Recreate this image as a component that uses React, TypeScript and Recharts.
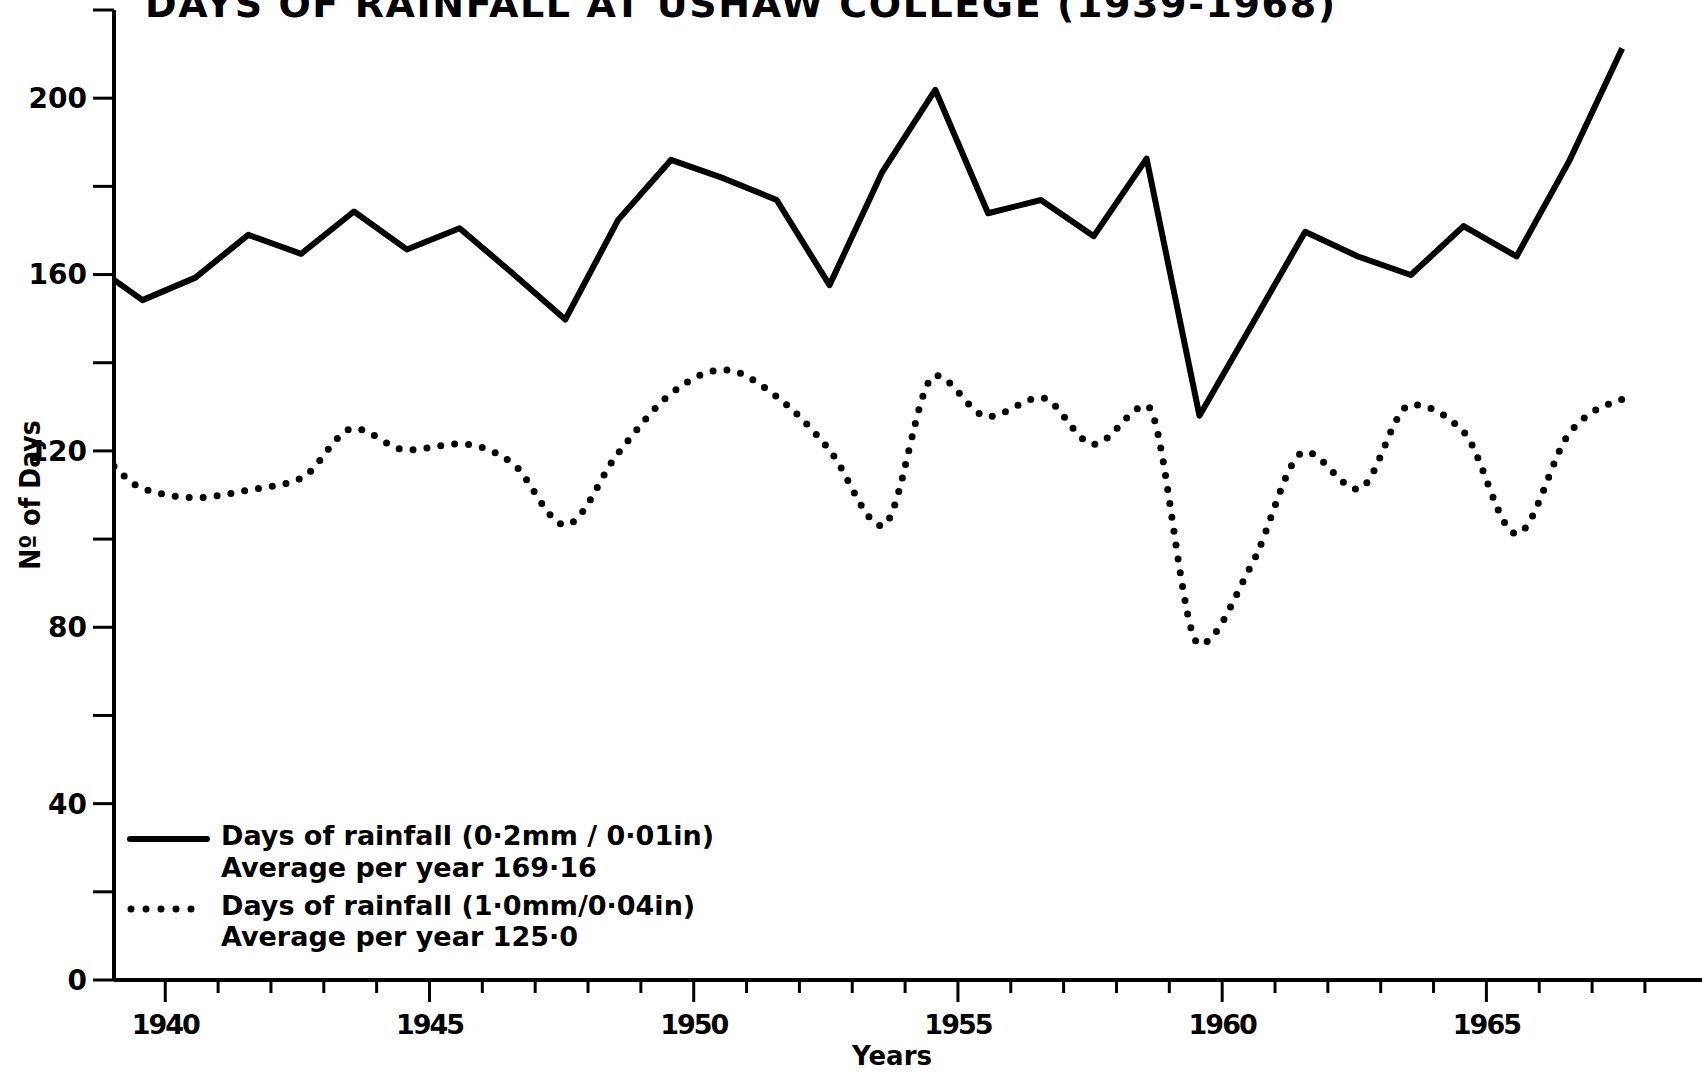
import React from 'react';
import { LineChart, Line, XAxis, YAxis } from 'recharts';

// years of record, each value plotted at mid-year
const years = [
  1939, 1940, 1941, 1942, 1943, 1944, 1945, 1946, 1947, 1948,
  1949, 1950, 1951, 1952, 1953, 1954, 1955, 1956, 1957, 1958,
  1959, 1960, 1961, 1962, 1963, 1964, 1965, 1966, 1967,
];

// days with 0.2mm / 0.01in or more
const days02 = [
  154.2, 159.3, 169.0, 164.7, 174.3, 165.7, 170.5, 160.3, 149.8, 172.4,
  186.0, 181.8, 176.9, 157.6, 183.3, 201.9, 173.9, 176.9, 168.7, 186.3,
  128.0, 148.8, 169.7, 164.1, 159.9, 171.0, 164.1, 185.8, 211.3,
];

// days with 1.0mm / 0.04in or more
const days10 = [
  111.5, 109.4, 111.1, 113.8, 125.1, 120.2, 121.6, 117.2, 103.2, 119.5,
  133.0, 138.4, 132.3, 120.2, 103.0, 137.1, 127.8, 132.1, 121.5, 130.3,
  76.1, 94.5, 119.8, 111.3, 130.5, 124.3, 101.2, 124.0, 131.7,
];

// where both curves leave the y axis
const start02 = 158.8;
const start10 = 116.5;

const yearTicks = [
  1940, 1941, 1942, 1943, 1944, 1945, 1946, 1947, 1948, 1949,
  1950, 1951, 1952, 1953, 1954, 1955, 1956, 1957, 1958, 1959,
  1960, 1961, 1962, 1963, 1964, 1965, 1966, 1967, 1968,
];
const dayTicks = [0, 20, 40, 60, 80, 100, 120, 140, 160, 180, 200, 220];

const X_MIN = 1939.03;
const X_MAX = 1969.08;
const MID = 0.57;

const data = [
  { x: X_MIN, d02: start02, d10: start10 },
  ...years.map((y, i) => ({ x: y + MID, d02: days02[i], d10: days10[i] })),
];

const FONT = '"DejaVu Sans", sans-serif';
const FONT_NARROW = '"DejaVu Sans Condensed", "DejaVu Sans", sans-serif';

const YearTick = (props: any) => {
  const { x, y, payload } = props;
  const major = payload.value % 5 === 0;
  return (
    <g>
      <line x1={x} x2={x} y1={y} y2={y + (major ? 22 : 13)} stroke="#000" strokeWidth={3} />
      {major && (
        <text
          x={x}
          y={y + 54}
          textAnchor="middle"
          fontFamily={FONT}
          fontWeight="bold"
          fontSize={27}
          letterSpacing={-2}
          fill="#000"
        >
          {payload.value}
        </text>
      )}
    </g>
  );
};

function App() {
  return (
    <div style={{ position: 'fixed', left: 0, top: 0, width: 1705, height: 1072, background: '#fff' }}>
      <LineChart width={1705} height={1072} data={data} margin={{ top: 10, right: 3, left: 0, bottom: 0 }}>
        <XAxis
          type="number"
          dataKey="x"
          domain={[X_MIN, X_MAX]}
          ticks={yearTicks}
          interval={0}
          allowDataOverflow
          height={92}
          tickSize={0}
          tickMargin={0}
          tickLine={false}
          tick={<YearTick />}
          axisLine={{ stroke: '#000', strokeWidth: 4 }}
          label={{
            content: () => (
              <text x={892} y={1065} textAnchor="middle" fontFamily={FONT} fontWeight="bold" fontSize={26} fill="#000">
                Years
              </text>
            ),
          }}
        />
        <YAxis
          type="number"
          domain={[0, 220]}
          ticks={dayTicks}
          interval={0}
          width={114}
          tickSize={21}
          tickMargin={6}
          tickFormatter={(v: number) => (v % 40 === 0 && v <= 200 ? String(v) : '')}
          tick={{ fill: '#000', fontSize: 28, fontFamily: FONT, fontWeight: 'bold' }}
          tickLine={{ stroke: '#000', strokeWidth: 3 }}
          axisLine={{ stroke: '#000', strokeWidth: 4 }}
          label={{
            content: () => (
              <text
                x={40}
                y={495}
                transform="rotate(-90 40 495)"
                textAnchor="middle"
                fontFamily={FONT_NARROW}
                fontWeight="bold"
                fontSize={28}
                fill="#000"
              >
                Nº of Days
              </text>
            ),
          }}
        />
        <Line
          type="linear"
          dataKey="d02"
          stroke="#000"
          strokeWidth={6}
          strokeLinejoin="round"
          dot={false}
          activeDot={false}
          isAnimationActive={false}
        />
        <Line
          type="monotone"
          dataKey="d10"
          stroke="#000"
          strokeWidth={7}
          strokeDasharray="0 14"
          strokeLinecap="round"
          dot={false}
          activeDot={false}
          isAnimationActive={false}
        />
      </LineChart>

      <svg width={1705} height={1072} style={{ position: 'absolute', left: 0, top: 0, pointerEvents: 'none' }}>
        <text x={145} y={17} fontFamily={FONT} fontWeight="bold" fontSize={38} letterSpacing={1.6} fill="#000">
          DAYS OF RAINFALL AT USHAW COLLEGE (1939-1968)
        </text>

        <g fontFamily={FONT} fontWeight="bold" fontSize={27} fill="#000">
          <line x1={130} x2={207} y1={839} y2={839} stroke="#000" strokeWidth={6} strokeLinecap="round" />
          <text x={221} y={845}>Days of rainfall (0·2mm / 0·01in)</text>
          <text x={221} y={877}>Average per year 169·16</text>
          <line x1={131} x2={206} y1={909} y2={909} stroke="#000" strokeWidth={7} strokeDasharray="0 15" strokeLinecap="round" />
          <text x={221} y={915}>Days of rainfall (1·0mm/0·04in)</text>
          <text x={221} y={946}>Average per year 125·0</text>
        </g>
      </svg>
    </div>
  );
}

export default App;
